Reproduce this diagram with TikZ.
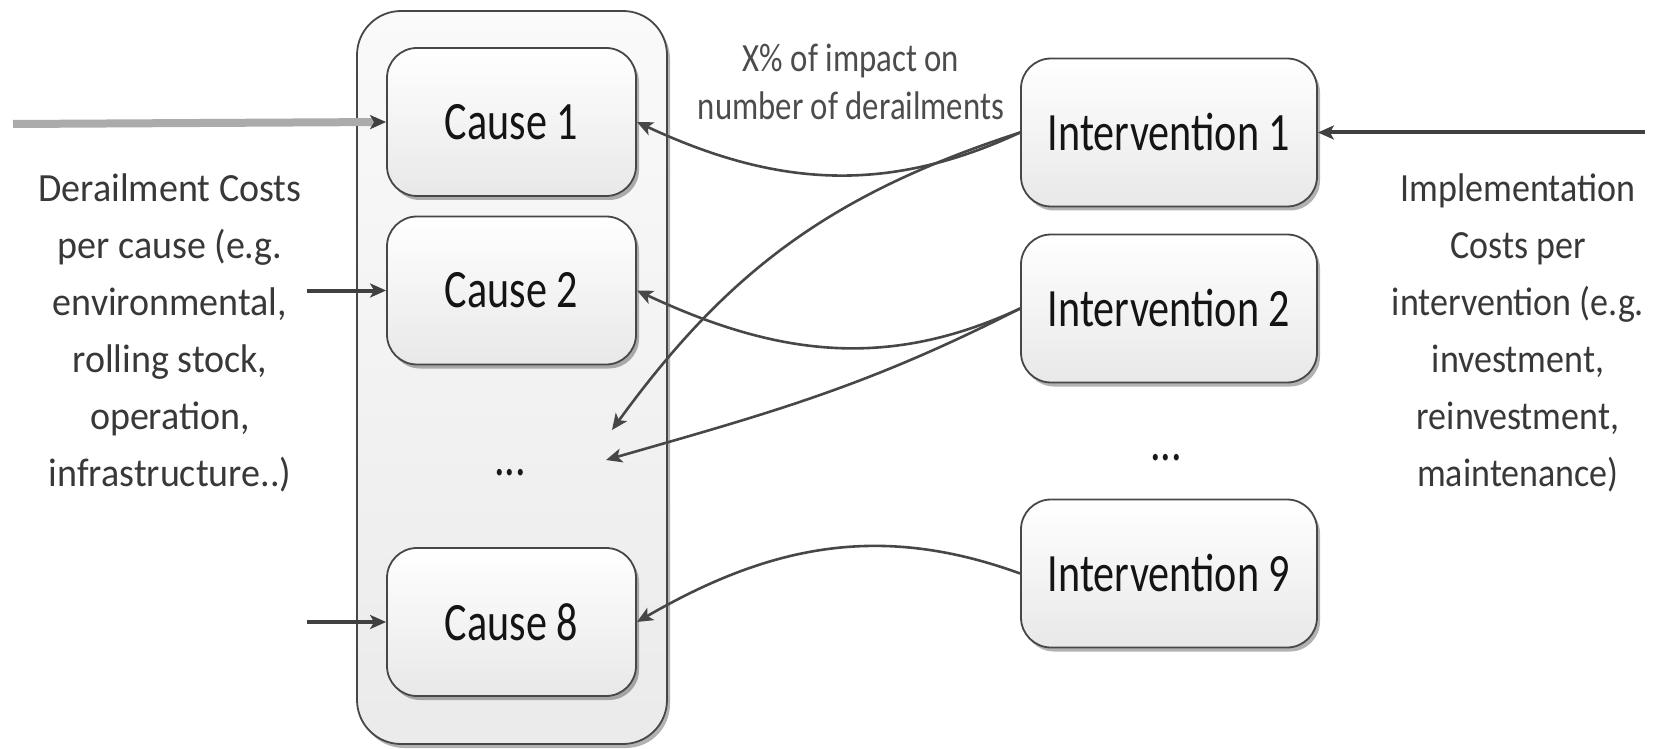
\documentclass[tikz,border=0pt]{standalone}
\usepackage{fontspec}
\setmainfont{Carlito}
\usepackage{graphicx}
\usetikzlibrary{arrows.meta,shadows}
\newcommand{\hsq}[2]{\scalebox{#1}[1]{#2}}
\begin{document}
\begin{tikzpicture}[x=0.5pt,y=0.5pt,
  arrowtip/.style={-{Stealth[length=8pt,width=7pt,inset=2pt]}},
  boxshadow/.style={drop shadow={shadow xshift=1.5pt,shadow yshift=-2pt,fill=black,opacity=0.3}},
  rbox/.style={boxshadow, draw=black!72, line width=0.9pt, rounded corners=15pt, top color=white, bottom color=black!9, minimum height=74pt, inner sep=0pt, text=black!92, font=\fontsize{27}{32}\selectfont},
  causebox/.style={rbox, minimum width=124.5pt},
  intbox/.style={rbox, minimum width=148pt},
  container/.style={boxshadow, draw=black!72, line width=0.9pt, rounded corners=22pt, top color=black!2, bottom color=black!8, minimum width=155pt, minimum height=366.5pt, inner sep=0pt},
  sidetext/.style={align=center, text=black!78, font=\fontsize{20}{28.5}\selectfont, inner sep=0pt},
  lbltext/.style={align=center, text=black!70, font=\fontsize{20}{24}\selectfont, inner sep=0pt},
  dotsnode/.style={font=\fontsize{27}{32}\selectfont, text=black!90, inner sep=0pt, anchor=base},
  conn/.style={arrowtip, draw=black!72, line width=1.3pt},
  feed/.style={arrowtip, draw=black!75, line width=2pt},
]
\useasboundingbox (0,0) rectangle (1662,-749);

\node[container] (box) at (512,-377.5) {};
\node[causebox] (c1) at (511.5,-122) {\hsq{0.78}{Cause 1}};
\node[causebox] (c2) at (511.5,-290.5) {\hsq{0.78}{Cause 2}};
\node[causebox] (c8) at (511.5,-622) {\hsq{0.78}{Cause 8}};
\node[dotsnode] (cd) at (510,-475) {\hsq{0.78}{...}};
\node[intbox] (i1) at (1169,-132.5) {\hsq{0.78}{Intervention 1}};
\node[intbox] (i2) at (1169,-308.5) {\hsq{0.78}{Intervention 2}};
\node[intbox] (i9) at (1169,-573.5) {\hsq{0.78}{Intervention 9}};
\node[dotsnode] (id) at (1166,-460) {\hsq{0.78}{...}};

\node[sidetext] (lt) at (170,-333) {\hsq{0.95}{Derailment Costs}\\ \hsq{0.95}{per cause (e.g.}\\ \hsq{0.95}{environmental,}\\ \hsq{0.95}{rolling stock,}\\ \hsq{0.95}{operation,}\\ \hsq{0.95}{infrastructure..)}};
\node[sidetext] (rt) at (1518,-333) {\hsq{0.9}{Implementation}\\ \hsq{0.9}{Costs per}\\ \hsq{0.9}{intervention (e.g.}\\ \hsq{0.9}{investment,}\\ \hsq{0.9}{reinvestment,}\\ \hsq{0.9}{maintenance)}};
\node[lbltext] (lbl) at (851,-82) {\hsq{0.82}{X\% of impact on}\\ \hsq{0.82}{number of derailments}};

\coordinate (l1) at (13,-124);
\coordinate (l2) at (307,-290.5);
\coordinate (l8) at (307,-622);
\coordinate (r1) at (1645,-132.5);
\coordinate (d1) at (612,-430);
\coordinate (d2) at (606,-460);

\draw[-{Stealth[length=8pt,width=7pt,inset=2pt,color=black!75]}, draw=black!33, line width=4pt] (l1) -- (c1.west);
\draw[feed] (l2) -- (c2.west);
\draw[feed] (l8) -- (c8.west);
\draw[feed] (r1) -- (i1.east);
\draw[conn] (i1.west) to[out=205,in=-25] (c1.east);
\draw[conn] (i1.west) to[out=198,in=54] (d1);
\draw[conn] (i2.west) to[out=205,in=-25] (c2.east);
\draw[conn] (i2.west) to[out=207,in=16] (d2);
\draw[conn] (i9.west) to[out=160,in=30] (c8.east);
\end{tikzpicture}
\end{document}
